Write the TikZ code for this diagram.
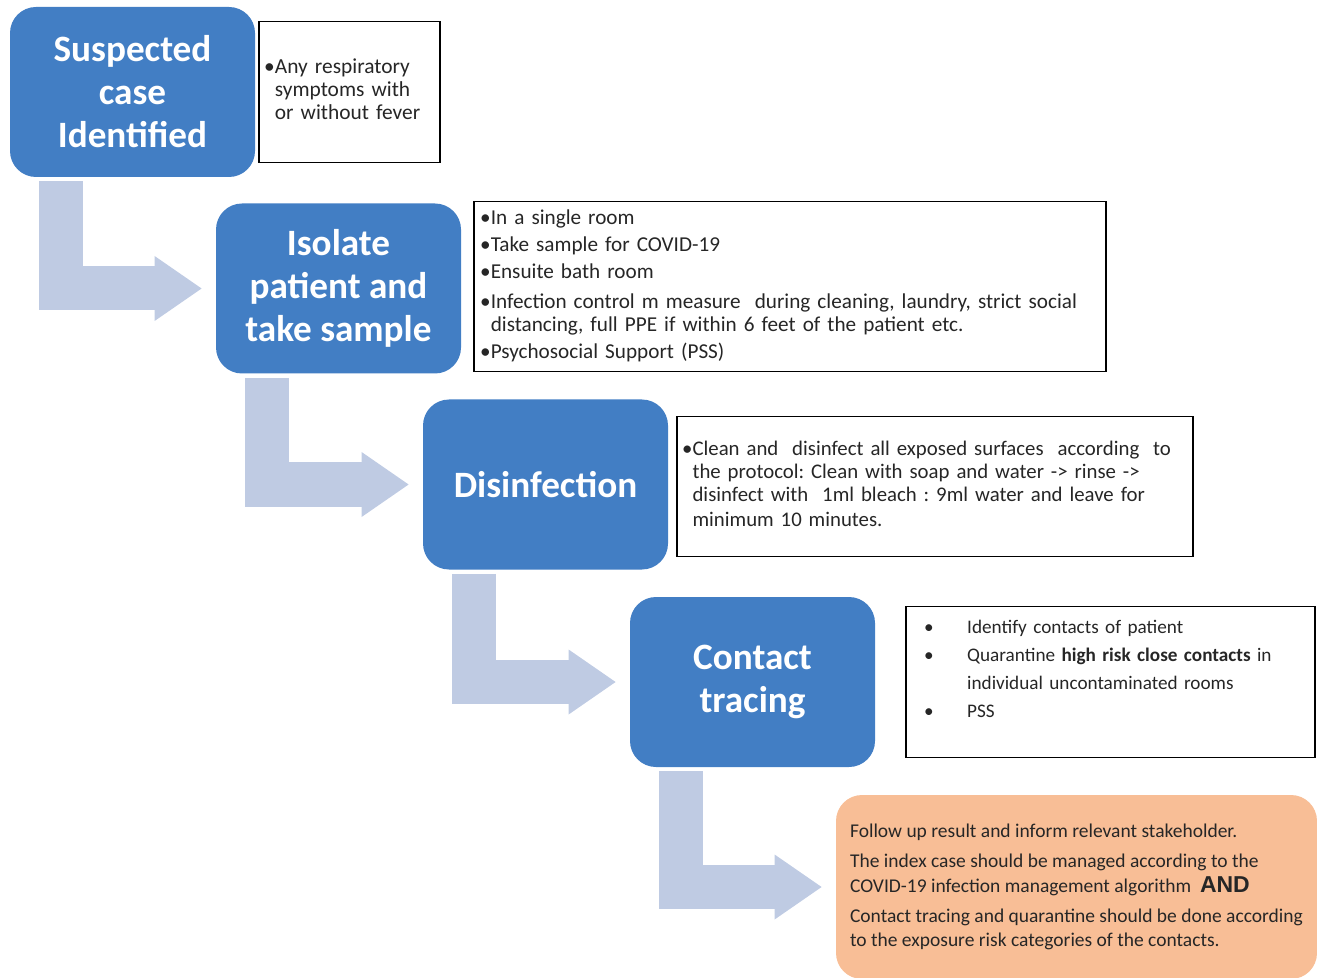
\documentclass[tikz,border=0pt]{standalone}
\usepackage{fontspec}
\setmainfont{Carlito}
\newfontfamily\arialfont{Liberation Sans}
\usetikzlibrary{positioning,calc,arrows.meta}
\definecolor{stepblue}{RGB}{66,126,196}
\definecolor{arrowblue}{RGB}{191,203,227}
\definecolor{endorange}{RGB}{248,190,150}
\frenchspacing
\tikzset{
  stepnode/.style={fill=stepblue, rounded corners=13pt, minimum width=122.5pt, minimum height=85pt,
    text=white, align=center, font=\bfseries\fontsize{18.6}{21.5}\selectfont},
  note/.style={draw, line width=0.8pt, text=black!85, font=\fontsize{10.7}{11.5}\selectfont},
  bentarrow/.style={draw=arrowblue, line width=22pt, line join=miter,
    -{Triangle[width=32.5pt,length=23.5pt,line width=0pt]}}
}
\begin{document}
\begin{tikzpicture}[x=0.5pt,y=-0.5pt]
\useasboundingbox (0,0) rectangle (1317,978);
\node[stepnode] (A) at (132.5,92) {Suspected\\case\\Identified};
\node[stepnode] (B) at (338.5,288.5) {Isolate\\patient and\\take sample};
\node[stepnode] (C) at (545.5,484.5) {Disinfection};
\node[stepnode] (D) at (752.5,682) {Contact\\tracing};
\node[fill=endorange, rounded corners=13pt, minimum width=240.5pt, minimum height=92pt, align=left,
  text=black!85, font=\fontsize{9.75}{12.2}\selectfont] (E) at (1076.5,887)
  {Follow up result and inform relevant stakeholder.\\[3pt]
   The index case should be managed according to the\\
   COVID-19 infection management algorithm\ \ {\arialfont\bfseries\fontsize{11.5}{12}\selectfont AND}\\[3pt]
   Contact tracing and quarantine should be done according\\
   to the exposure risk categories of the contacts.};
\node[note, text width=85.5pt, inner xsep=2.5pt, minimum height=70.5pt, right=1.5pt of A] (nA)
  {\noindent\begin{tabular}{@{}l@{}l@{}}•&Any respiratory\\&symptoms with\\&or without fever\end{tabular}};
\node[note, text width=310pt, inner xsep=3pt, minimum height=85pt, right=6pt of B, yshift=1pt,
  font=\fontsize{10.6}{11.5}\selectfont] (nB)
  {\noindent\begin{tabular}{@{}l@{}l@{}}•&In a single room\\[2pt]
   •&Take sample for COVID-19\\[2pt]
   •&Ensuite bath room\\[3.5pt]
   •&Infection control m measure\ \ during cleaning, laundry, strict social\\
    &distancing, full PPE if within 6 feet of the patient etc.\\[2pt]
   •&Psychosocial Support (PSS)\end{tabular}};
\node[note, text width=253pt, inner xsep=2.5pt, minimum height=70pt, right=4pt of C, yshift=-1pt,
  font=\fontsize{10.4}{11.5}\selectfont] (nC)
  {\noindent\begin{tabular}{@{}l@{}l@{}}•&Clean and\ \ disinfect all exposed surfaces\ \ according\ \ to\\
    &the protocol: Clean with soap and water -> rinse ->\\
    &disinfect with\ \ 1ml bleach : 9ml water and leave for\\[1pt]
    &minimum 10 minutes.\end{tabular}};
\node[note, text width=186.5pt, inner xsep=9pt, minimum height=75.5pt, right=15pt of D,
  font=\fontsize{9.6}{14}\selectfont] (nD)
  {\noindent\begin{tabular}{@{}p{21.5pt}@{}l@{}}•&Identify contacts of patient\\
   •&Quarantine \textbf{high risk close contacts} in\\
    &individual uncontaminated rooms\\
   •&PSS\\[12pt]\end{tabular}};
\foreach \s/\t in {A/B,B/C,C/D,D/E}
  \draw[bentarrow] ($(\s.south west)+(51,4)$) |- ($(\t.west)+(-14,0)$);
\end{tikzpicture}
\end{document}
